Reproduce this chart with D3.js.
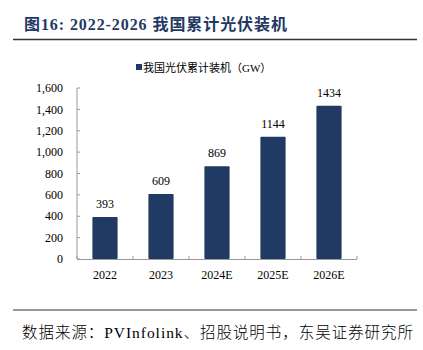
<!DOCTYPE html>
<html><head><meta charset="utf-8">
<script src="https://cdn.jsdelivr.net/npm/d3@7"></script>
<style>
body{margin:0;background:#fff;}
svg{display:block;}
text{font-family:"Liberation Serif","Times New Roman","Noto Sans CJK SC",serif;}
</style></head>
<body>
<svg id="c" width="423" height="350"></svg>
<script>
const categories = ["2022","2023","2024E","2025E","2026E"];
const values = [393,609,869,1144,1434];
const yTicks = [0,200,400,600,800,1000,1200,1400,1600];
const seriesName = "我国光伏累计装机（GW）";
const titleText = "图16:  2022-2026 我国累计光伏装机";
const sourceText = "数据来源：PVInfolink、招股说明书，东吴证券研究所";

const svg = d3.select("#c");
const navy = "#213A63";

// title
svg.append("text").attr("x",24).attr("y",30).attr("fill","#1F3864")
  .attr("font-size",16).attr("font-weight","bold")
  .attr("textLength",263).attr("lengthAdjust","spacing").text(titleText);
svg.append("line").attr("x1",13).attr("x2",417).attr("y1",39.5).attr("y2",39.5)
  .attr("stroke","#333").attr("stroke-width",1.5);

// legend
svg.append("rect").attr("x",136).attr("y",64).attr("width",6).attr("height",6).attr("fill",navy);
svg.append("text").attr("x",143).attr("y",71.5).attr("font-size",11).attr("fill","#000").text(seriesName);

const x = d3.scaleBand().domain(categories).range([77,357]).paddingInner(0.55).paddingOuter(0.275);
const y = d3.scaleLinear().domain([0,1600]).range([259,88]);

// y axis
svg.append("line").attr("x1",77).attr("x2",77).attr("y1",88).attr("y2",259).attr("stroke","#999");
svg.selectAll(".yt").data(yTicks).enter().append("line")
  .attr("x1",77).attr("x2",80).attr("y1",d=>y(d)).attr("y2",d=>y(d)).attr("stroke","#999");
svg.selectAll(".yl").data(yTicks).enter().append("text")
  .attr("x",63).attr("y",d=>y(d)).attr("dy","0.35em").attr("text-anchor","end")
  .attr("font-size",12).attr("fill","#000").text(d=>d3.format(",")(d));

// bars
svg.selectAll(".bar").data(values).enter().append("rect")
  .attr("x",(d,i)=>x(categories[i])).attr("width",x.bandwidth())
  .attr("y",d=>y(d)).attr("height",d=>y(0)-y(d)).attr("fill",navy).attr("rx",1);
svg.selectAll(".vl").data(values).enter().append("text")
  .attr("x",(d,i)=>x(categories[i])+x.bandwidth()/2).attr("y",d=>y(d)-9)
  .attr("text-anchor","middle").attr("font-size",12).attr("fill","#000").text(d=>d);

// x axis
svg.append("line").attr("x1",77).attr("x2",357).attr("y1",259.5).attr("y2",259.5).attr("stroke","#999");
const bounds = d3.range(categories.length+1).map(i=>77+i*280/categories.length);
svg.selectAll(".xt").data(bounds).enter().append("line")
  .attr("x1",d=>d).attr("x2",d=>d).attr("y1",259).attr("y2",256).attr("stroke","#999");
svg.selectAll(".xl").data(categories).enter().append("text")
  .attr("x",d=>x(d)+x.bandwidth()/2).attr("y",279).attr("text-anchor","middle")
  .attr("font-size",12).attr("fill","#000").text(d=>d);

// footer
svg.append("line").attr("x1",13).attr("x2",417).attr("y1",310).attr("y2",310)
  .attr("stroke","#777").attr("stroke-width",1.5);
svg.append("text").attr("x",22).attr("y",338).attr("font-size",15.5).attr("fill","#000")
  .attr("font-weight",300)
  .attr("textLength",391).attr("lengthAdjust","spacing").text(sourceText);
</script>
</body></html>
